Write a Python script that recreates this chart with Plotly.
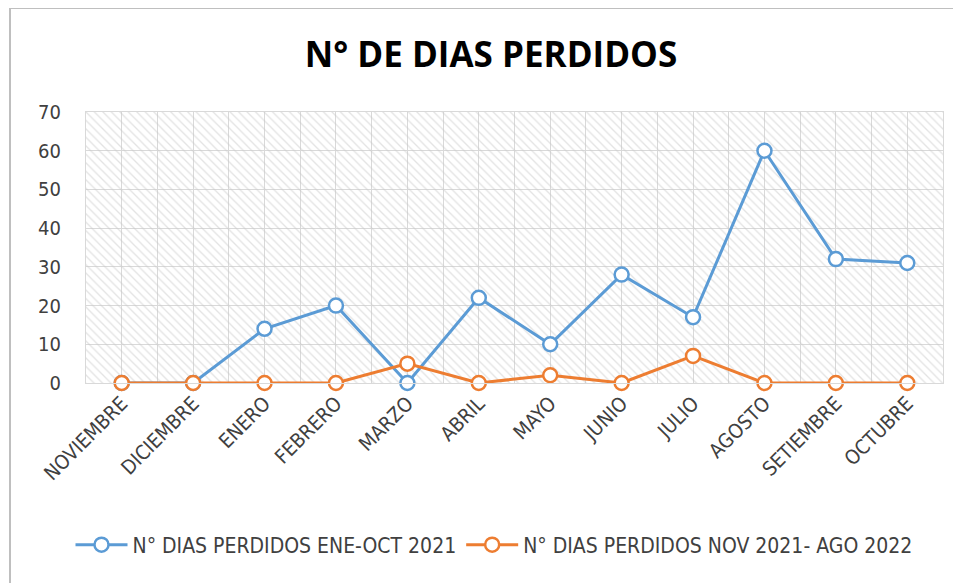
import plotly.graph_objects as go

months = ["NOVIEMBRE", "DICIEMBRE", "ENERO", "FEBRERO", "MARZO", "ABRIL",
          "MAYO", "JUNIO", "JULIO", "AGOSTO", "SETIEMBRE", "OCTUBRE"]
serie_2021 = [0, 0, 14, 20, 0, 22, 10, 28, 17, 60, 32, 31]
serie_2022 = [0, 0, 0, 0, 5, 0, 2, 0, 7, 0, 0, 0]
name_2021 = "N° DIAS PERDIDOS ENE-OCT 2021"
name_2022 = "N° DIAS PERDIDOS NOV 2021- AGO 2022"
y_ticks = [0, 10, 20, 30, 40, 50, 60, 70]
title_text = "N° DE DIAS PERDIDOS"

idx = list(range(len(months)))
ymax = y_ticks[-1]

BLUE = "#5B9BD5"
ORANGE = "#ED7D31"
GRID = "#d9d9d9"
TXT = "#404040"
NARROW = "Liberation Sans Narrow, DejaVu Sans Condensed, Open Sans, sans-serif"

# page is drawn with an 8px body margin, so the figure is 8px smaller
W, H = 953, 575
L, R, T, B = 78, 18, 104, 200
PW, PH = W - L - R, H - T - B

fig = go.Figure()

# hatched plot-area background
fig.add_trace(go.Bar(
    x=idx, y=[ymax] * len(idx), width=1,
    marker=dict(color="rgba(0,0,0,0)", line=dict(width=0),
                pattern=dict(shape="\\", fgcolor="#c8c8c8", bgcolor="rgba(0,0,0,0)",
                             size=6, solidity=0.22)),
    hoverinfo="skip", showlegend=False,
))

for name, vals, col in [(name_2021, serie_2021, BLUE), (name_2022, serie_2022, ORANGE)]:
    fig.add_trace(go.Scatter(
        x=idx, y=vals, name=name, mode="lines+markers",
        line=dict(color=col, width=3),
        marker=dict(symbol="circle", size=14, color="white",
                    line=dict(color=col, width=2.5)),
        cliponaxis=False,
    ))

fig.update_layout(
    width=W, height=H,
    margin=dict(l=L, r=R, t=T, b=B),
    paper_bgcolor="white", plot_bgcolor="white",
    font=dict(family=NARROW, color=TXT),
    title=dict(text="<b>" + title_text + "</b>", x=483 / W, xanchor="center",
               y=1 - 47 / H, yanchor="middle",
               font=dict(size=35, color="#000000", family="Open Sans, sans-serif")),
    bargap=0,
    showlegend=True,
    legend=dict(orientation="h", x=(486 - L) / PW, xanchor="center",
                y=(PH - (537 - T)) / PH, yanchor="middle",
                font=dict(size=21, color=TXT), itemwidth=52, tracegroupgap=0),
    shapes=[dict(type="rect", xref="paper", yref="paper",
                 x0=(2 - L) / PW, x1=(W + 30 - L) / PW,
                 y0=-(H + 30 - T - PH) / PH, y1=(T + PH - 0) / PH,
                 line=dict(color="#bfbfbf", width=2), fillcolor="rgba(0,0,0,0)",
                 layer="below")],
)

fig.update_xaxes(
    range=[-0.5, len(months) - 0.5],
    tickmode="array", tickvals=idx, ticktext=months,
    tickangle=-45, tickfont=dict(size=20, color=TXT, family=NARROW),
    showgrid=True, gridcolor=GRID, gridwidth=1,
    minor=dict(tickmode="array", tickvals=[i + 0.5 for i in idx[:-1]],
               showgrid=True, gridcolor=GRID, gridwidth=1, ticks=""),
    showline=True, linecolor=GRID, mirror=True, zeroline=False, ticks="",
)
fig.update_yaxes(
    range=[0, ymax], tickvals=y_ticks,
    tickfont=dict(size=20, color=TXT, family=NARROW),
    showgrid=True, gridcolor=GRID, gridwidth=1,
    showline=True, linecolor=GRID, mirror=True, zeroline=False, ticks="",
    ticklabelstandoff=20,
)

fig.write_html("out.html")
